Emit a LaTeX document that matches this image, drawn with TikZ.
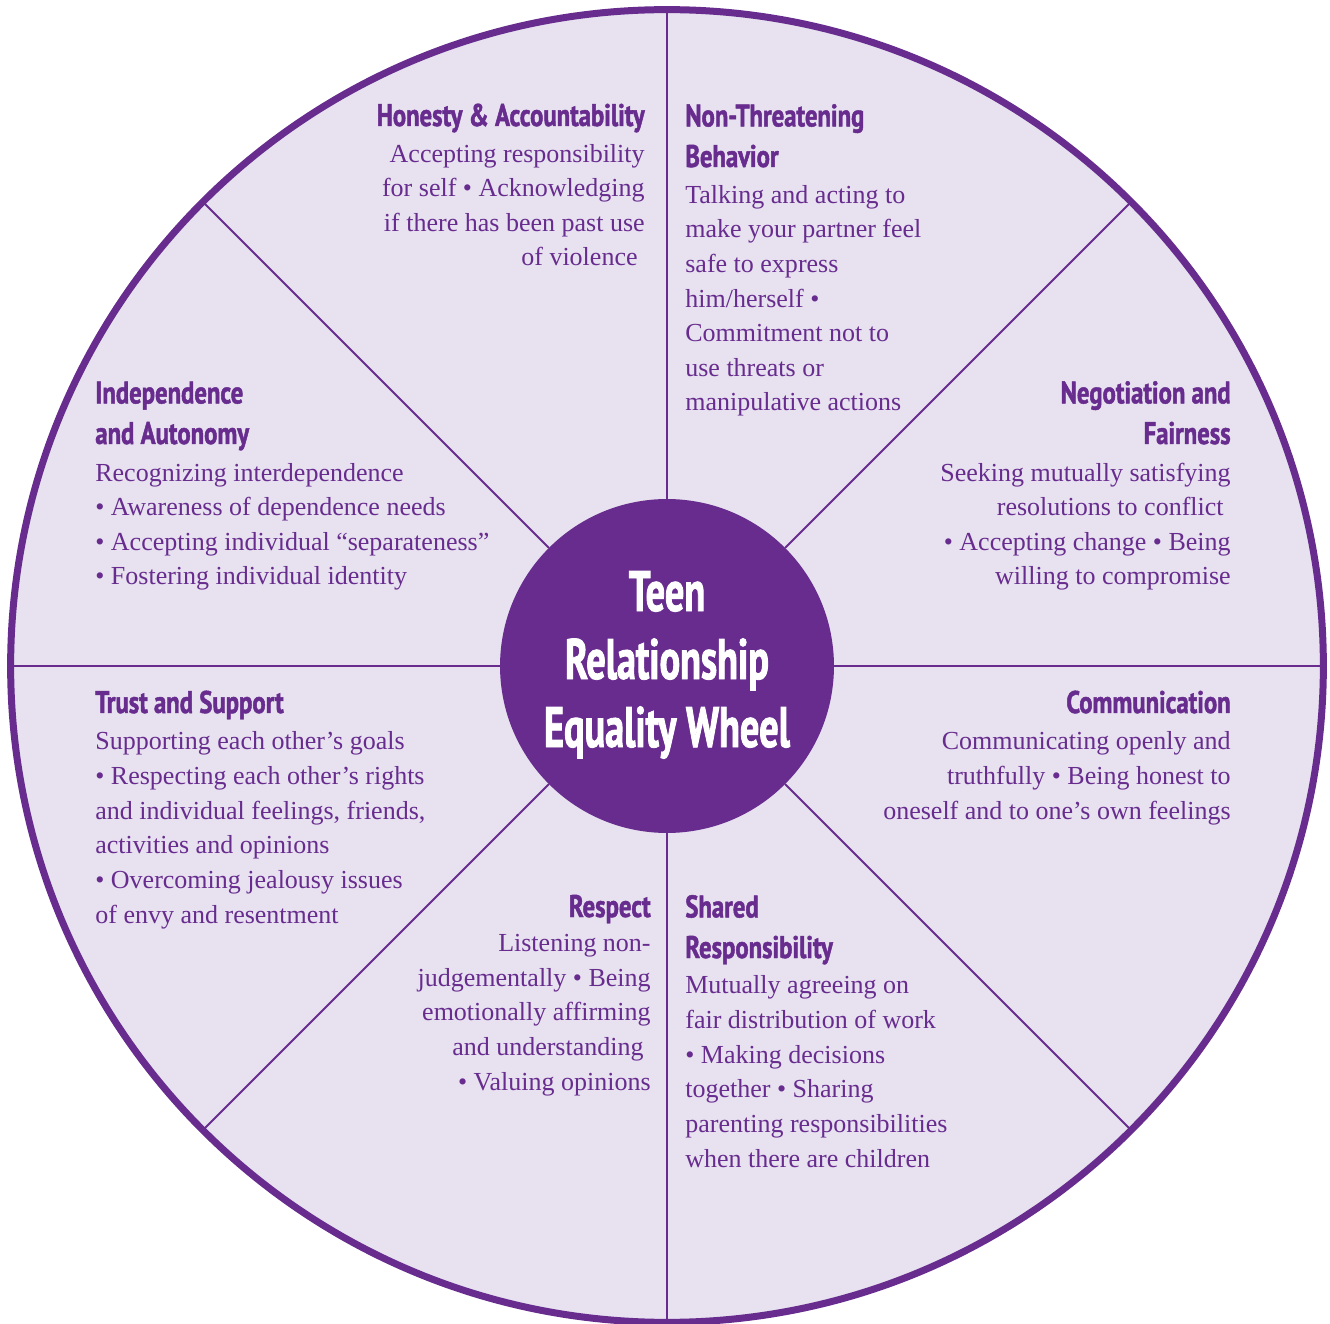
\documentclass[tikz,border=0pt]{standalone}
\usepackage{fontspec}
\setmainfont{Liberation Serif}
\newfontfamily\headfont{PT Sans Bold}[FakeStretch=0.79,FakeBold=1.5]
\newfontfamily\hubfont{PT Sans Bold}[FakeStretch=0.67,FakeBold=1.5]
\definecolor{wheelpurple}{RGB}{103,44,142}
\definecolor{wheelfill}{RGB}{231,225,240}

\begin{document}
\begin{tikzpicture}[x=0.02cm,y=-0.02cm,
  rim/.style={circle,draw=wheelpurple,line width=3.98pt,fill=wheelfill,
              minimum size=26.26cm,inner sep=0pt,outer sep=0pt},
  hub/.style={circle,fill=wheelpurple,minimum size=6.68cm,
              inner sep=0pt,outer sep=0pt},
  spoke/.style={draw=wheelpurple,line width=1.1pt},
  head/.style={font=\headfont\fontsize{17.8}{23.1}\selectfont,
               text=wheelpurple,inner sep=0pt},
  body/.style={font=\fontsize{14.8}{19.7}\selectfont,
               text=wheelpurple,inner sep=0pt},
  hubtext/.style={font=\hubfont\fontsize{32.5}{38.7}\selectfont,
                  text=white,inner sep=0pt,align=center}]
\useasboundingbox (0,0) rectangle (1330,1324);
%% ── Wheel, hub and the eight spokes ────────────────────────────────────
\node[rim] (rim) at (667,666) {};
\node[hub] (hub) at (667,666) {};
\foreach \a in {0,45,...,315}
  \draw[spoke] (hub.\a) -- (rim.\a);
%% multi-line nodes sit on the baseline of their last line
\node[hubtext,anchor=base] (wheeltitle) at (667,747)
  {Teen\\Relationship\\Equality Wheel};
%% ── Upper left: Honesty & Accountability ───────────────────────────────
\node[head,anchor=base east,align=right] (honestyhead) at (645,126)
  {Honesty \& Accountability};
\node[body,anchor=base east,align=right] (honestytext) at (645,266)
  {Accepting responsibility\\
   for self • Acknowledging\\
   if there has been past use\\
   of violence\kern4pt};
%% ── Upper right: Non-Threatening Behavior ──────────────────────────────
\node[head,anchor=base west,align=left] (threathead) at (685,167)
  {Non-Threatening\\Behavior};
\node[body,anchor=base west,align=left] (threattext) at (685,411)
  {Talking and acting to\\
   make your partner feel\\
   safe to express\\
   him/herself •\\
   Commitment not to\\
   use threats or\\
   manipulative actions};
%% ── Left: Independence and Autonomy ────────────────────────────────────
\node[head,anchor=base west,align=left] (autonomyhead) at (95,444)
  {Independence\\and Autonomy};
\node[body,anchor=base west,align=left] (autonomytext) at (95,585)
  {Recognizing interdependence\\
   • Awareness of dependence needs\\
   • Accepting individual “separateness”\\
   • Fostering individual identity};
%% ── Right: Negotiation and Fairness ────────────────────────────────────
\node[head,anchor=base east,align=right] (fairhead) at (1231,444)
  {Negotiation and\\Fairness};
\node[body,anchor=base east,align=right] (fairtext) at (1231,585)
  {Seeking mutually satisfying\\
   resolutions to conflict\kern4pt\\
   • Accepting change • Being\\
   willing to compromise};
%% ── Left: Trust and Support ────────────────────────────────────────────
\node[head,anchor=base west,align=left] (trusthead) at (95,713)
  {Trust and Support};
\node[body,anchor=base west,align=left] (trusttext) at (95,923)
  {Supporting each other’s goals\\
   • Respecting each other’s rights\\
   and individual feelings, friends,\\
   activities and opinions\\
   • Overcoming jealousy issues\\
   of envy and resentment};
%% ── Right: Communication ───────────────────────────────────────────────
\node[head,anchor=base east,align=right] (talkhead) at (1231,713)
  {Communication};
\node[body,anchor=base east,align=right] (talktext) at (1231,819)
  {Communicating openly and\\
   truthfully • Being honest to\\
   oneself and to one’s own feelings};
%% ── Lower left: Respect ────────────────────────────────────────────────
\node[head,anchor=base east,align=right] (respecthead) at (651,917)
  {Respect};
\node[body,anchor=base east,align=right] (respecttext) at (651,1090)
  {Listening non-\\
   judgementally • Being\\
   emotionally affirming\\
   and understanding\kern4pt\\
   • Valuing opinions};
%% ── Lower right: Shared Responsibility ─────────────────────────────────
\node[head,anchor=base west,align=left] (sharedhead) at (685,958)
  {Shared\\Responsibility};
\node[body,anchor=base west,align=left] (sharedtext) at (685,1167)
  {Mutually agreeing on\\
   fair distribution of work\\
   • Making decisions\\
   together • Sharing\\
   parenting responsibilities\\
   when there are children};
\end{tikzpicture}
\end{document}
